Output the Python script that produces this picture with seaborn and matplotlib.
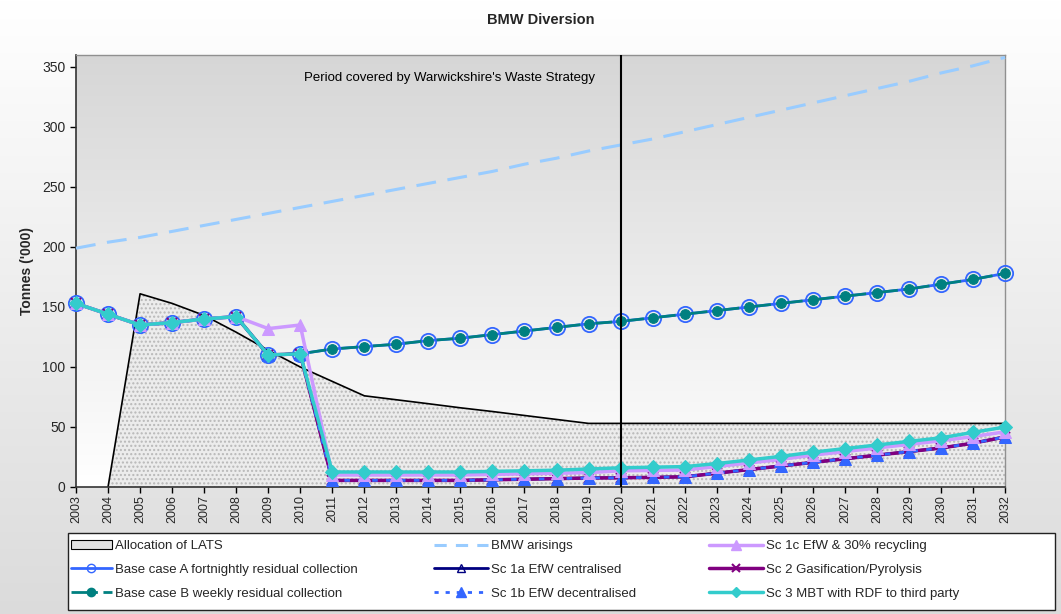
import numpy as np
import matplotlib
matplotlib.use("Agg")
import matplotlib.pyplot as plt
import seaborn as sns
from matplotlib.lines import Line2D
from matplotlib.patches import Patch, Rectangle

# ---------------- data ----------------
years = list(range(2003, 2033))
nan = np.nan
lats = [nan, 0, 161, 153, 143, 129, 114, 100, 88, 76, 72.7, 69.4, 66, 62.9, 59.6,
        56.3, 53, 53, 53, 53, 53, 53, 53, 53, 53, 53, 53, 53, 53, 53]
bmw_arisings = [199, 204, 208, 213, 218, 223, 228, 233, 238, 243, 248, 253, 258, 263, 269,
                274, 280, 285, 290, 296, 302, 308, 314, 320, 326, 332, 338, 345, 351, 358]
base_a = [153, 144, 135, 137, 140, 142, 110, 111, 115, 117, 119, 122, 124, 127, 130,
          133, 136, 138, 141, 144, 147, 150, 153, 156, 159, 162, 165, 169, 173, 178]
base_b = [153, 144, 135, 137, 140, 142, 110, 111, 115, 117, 119, 122, 124, 127, 130,
          133, 136, 138, 141, 144, 147, 150, 153, 156, 159, 162, 165, 169, 173, 178]
sc1a = [153, 144, 135, 137, 140, 142, 110, 111, 5.5, 5.5, 5.5, 5.5, 5.5, 6, 6.5,
        7, 7.5, 7.7, 8, 8.5, 11.5, 14.5, 17.5, 20.5, 23.5, 26.5, 29.5, 32.5, 36.5, 41.7]
sc1b = [153, 144, 135, 137, 140, 142, 110, 111, 5.5, 5.5, 5.5, 5.5, 5.5, 6, 6.5,
        7, 7.5, 7.7, 8, 8.5, 11.5, 14.5, 17.5, 20.5, 23.5, 26.5, 29.5, 32.5, 36.5, 41.7]
sc1c = [153, 144, 135, 137, 140, 142, 132, 135, 10, 10, 10, 10, 10, 10.5, 11,
        11.5, 12, 13.5, 13.8, 14.2, 17, 20, 23, 26.5, 29.5, 32.5, 35.5, 38.5, 42, 46]
sc2 = [153, 144, 135, 137, 140, 142, 110, 111, 5.5, 5.5, 5.5, 5.5, 5.5, 6, 6.5,
       7, 7.5, 7.7, 8, 8.5, 11.5, 14.5, 17.5, 20.5, 23.5, 26.5, 29.5, 32.5, 36.5, 41.7]
sc3 = [153, 144, 135, 137, 140, 142, 110, 111, 12.5, 12.5, 12.5, 12.5, 12.5, 13, 13.5,
       14, 15, 16, 16.5, 17, 19.5, 22.5, 25.5, 29, 32, 35, 38, 41, 45.5, 50]

labels = {
    "lats": "Allocation of LATS",
    "bmw": "BMW arisings",
    "sc1c": "Sc 1c EfW & 30% recycling",
    "base_a": "Base case A fortnightly residual collection",
    "sc1a": "Sc 1a EfW centralised",
    "sc2": "Sc 2 Gasification/Pyrolysis",
    "base_b": "Base case B weekly residual collection",
    "sc1b": "Sc 1b EfW decentralised",
    "sc3": "Sc 3 MBT with RDF to third party",
}
title = "BMW Diversion"
ylabel = "Tonnes ('000)"
note = "Period covered by Warwickshire's Waste Strategy"
strategy_start = 2020

# ---------------- style ----------------
sns.set_theme(style="white")
plt.rcParams["font.family"] = ["Liberation Sans", "DejaVu Sans"]

W, H = 1061, 614
fig = plt.figure(figsize=(W / 100, H / 100), dpi=100)

# figure gradient background
bg = fig.add_axes([0, 0, 1, 1], zorder=-10)
grad = np.linspace(1.0, 0.86, 256).reshape(-1, 1)
bg.imshow(np.dstack([grad, grad, grad]), aspect="auto", extent=[0, 1, 0, 1])
bg.set_axis_off()

ax = fig.add_axes([76 / W, 1 - 487 / H, (1005 - 76) / W, (487 - 55) / H])
ax.set_facecolor("none")
pgrad = np.linspace(0.84, 1.0, 256).reshape(-1, 1)
ax.imshow(np.dstack([pgrad, pgrad, pgrad]), aspect="auto", extent=[0, 1, 0, 1],
          transform=ax.transAxes, zorder=0)

yrs = np.array(years, dtype=float)
lats_arr = np.array(lats, dtype=float)

# LATS area
ax.fill_between(yrs, 0, lats_arr, where=~np.isnan(lats_arr), facecolor="#ececec",
                edgecolor="#b8b8b8", hatch="....", linewidth=0, zorder=1)
sns.lineplot(x=yrs, y=lats_arr, ax=ax, color="black", linewidth=1.2, zorder=2)

# BMW arisings
sns.lineplot(x=yrs, y=bmw_arisings, ax=ax, color="#99CCFF", linewidth=2.2,
             linestyle=(0, (6.5, 3.8)), zorder=3, clip_on=False)

lw = 2.0
sns.lineplot(x=yrs, y=base_a, ax=ax, color="#3366FF", linewidth=lw, marker="o",
             markersize=11, markerfacecolor="none", markeredgecolor="#3366FF",
             markeredgewidth=1.3, zorder=4, clip_on=False)
sns.lineplot(x=yrs, y=base_b, ax=ax, color="#008080", linewidth=lw,
             linestyle=(0, (6, 2, 1.5, 2)), marker="o", markersize=7,
             markerfacecolor="#008080", markeredgecolor="#008080", zorder=5, clip_on=False)
sns.lineplot(x=yrs, y=sc1a, ax=ax, color="#000080", linewidth=lw, marker="^",
             markersize=7, markerfacecolor="none", markeredgecolor="#000080", zorder=6,
             clip_on=False)
sns.lineplot(x=yrs, y=sc2, ax=ax, color="#800080", linewidth=lw + 0.5, marker="x",
             markersize=7, markeredgewidth=1.5, markeredgecolor="#800080", zorder=7,
             clip_on=False)
sns.lineplot(x=yrs, y=sc1b, ax=ax, color="#3366FF", linewidth=lw,
             linestyle=(0, (2, 3)), marker="^", markersize=8,
             markerfacecolor="#3366FF", markeredgecolor="#3366FF", zorder=8, clip_on=False)
sns.lineplot(x=yrs, y=sc1c, ax=ax, color="#CC99FF", linewidth=lw + 0.5, marker="^",
             markersize=8, markerfacecolor="#CC99FF", markeredgecolor="#CC99FF", zorder=9,
             clip_on=False)
sns.lineplot(x=yrs, y=sc3, ax=ax, color="#33CCCC", linewidth=lw + 0.5, marker="D",
             markersize=7, markerfacecolor="#33CCCC", markeredgecolor="#33CCCC", zorder=10,
             clip_on=False)

# strategy marker line & note
ax.axvline(strategy_start, color="black", linewidth=1.5, zorder=11)
ax.text(2014.65, 341, note, ha="center", va="center", fontsize=9.5, color="black",
        zorder=12)

ax.set_xlim(years[0], years[-1])
ax.set_ylim(0, 360)
ax.set_xticks(years)
ax.set_xticklabels([str(y) for y in years], rotation=90, fontsize=9)
ax.set_yticks(range(0, 351, 50))
ax.tick_params(axis="y", labelsize=10, length=4, width=1, color="black", direction="out", left=True)
ax.tick_params(axis="x", length=4, width=1, color="black", direction="out", bottom=True, pad=2)
ax.set_xlabel("")
ax.set_ylabel(ylabel, fontsize=10, fontweight="bold", labelpad=6)
for s in ["top", "right"]:
    ax.spines[s].set_color("#909090")
    ax.spines[s].set_linewidth(1)
for s in ["left", "bottom"]:
    ax.spines[s].set_color("#333333")
    ax.spines[s].set_linewidth(1.2)
ax.grid(False)

fig.text(541 / W, 1 - 20 / H, title, ha="center", va="center", fontsize=10.5,
         fontweight="bold")

# ---------------- legend ----------------
box = Rectangle((68 / W, 1 - 610 / H), (1055 - 68) / W, (610 - 533) / H,
                transform=fig.transFigure, facecolor="white", edgecolor="#222222",
                linewidth=1, zorder=5)
fig.add_artist(box)

h_lats = Patch(facecolor="#e2e2e2", edgecolor="black", linewidth=0.8)
h_bmw = Line2D([], [], color="#99CCFF", lw=2.2, linestyle=(0, (4, 3)))
h_sc1c = Line2D([], [], color="#CC99FF", lw=2.5, marker="^", markersize=7)
h_base_a = Line2D([], [], color="#3366FF", lw=2, marker="o", markersize=6,
                  markerfacecolor="none", markeredgecolor="#3366FF")
h_sc1a = Line2D([], [], color="#000080", lw=2, marker="^", markersize=6,
                markerfacecolor="none")
h_sc2 = Line2D([], [], color="#800080", lw=2.5, marker="x", markersize=6, markeredgewidth=1.5)
h_base_b = Line2D([], [], color="#008080", lw=2, linestyle=(0, (6, 2, 1.5, 2)), marker="o",
                  markersize=6)
h_sc1b = Line2D([], [], color="#3366FF", lw=2, linestyle=(0, (1.5, 2.5)), marker="^",
                markersize=7)
h_sc3 = Line2D([], [], color="#33CCCC", lw=2.5, marker="D", markersize=5)

cols = [
    ([h_lats, h_base_a, h_base_b], [labels["lats"], labels["base_a"], labels["base_b"]], 71, 3.1),
    ([h_bmw, h_sc1a, h_sc1b], [labels["bmw"], labels["sc1a"], labels["sc1b"]], 434, 4.1),
    ([h_sc1c, h_sc2, h_sc3], [labels["sc1c"], labels["sc2"], labels["sc3"]], 709, 4.1),
]
for handles, labs, xpx, hl in cols:
    leg = fig.legend(handles, labs, loc="upper left",
                     bbox_to_anchor=(xpx / W, 1 - 540 / H), bbox_transform=fig.transFigure,
                     frameon=False, fontsize=9.5, handlelength=hl, handletextpad=0.2,
                     labelspacing=0.88, borderpad=0, borderaxespad=0)
    leg.set_zorder(6)

fig.savefig("out.png", dpi=100)
